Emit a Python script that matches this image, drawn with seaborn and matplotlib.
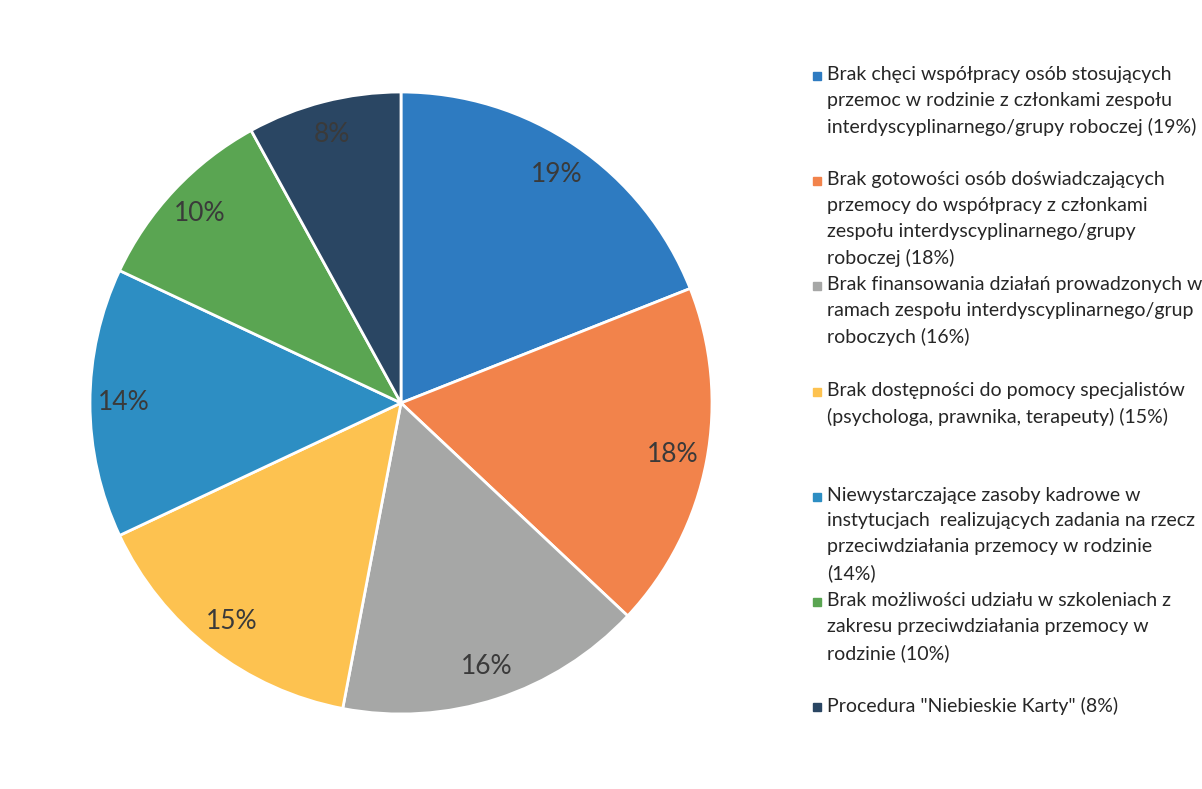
import matplotlib
matplotlib.use("Agg")
import matplotlib.pyplot as plt
import seaborn as sns

sns.set_theme(style="white")
plt.rcParams['font.family'] = ['Lato', 'DejaVu Sans']

# Data
labels = [
    "Brak chęci współpracy osób stosujących\nprzemoc w rodzinie z członkami zespołu\ninterdyscyplinarnego/grupy roboczej (19%)",
    "Brak gotowości osób doświadczających\nprzemocy do współpracy z członkami\nzespołu interdyscyplinarnego/grupy\nroboczej (18%)",
    "Brak finansowania działań prowadzonych w\nramach zespołu interdyscyplinarnego/grup\nroboczych (16%)",
    "Brak dostępności do pomocy specjalistów\n(psychologa, prawnika, terapeuty) (15%)",
    "Niewystarczające zasoby kadrowe w\ninstytucjach  realizujących zadania na rzecz\nprzeciwdziałania przemocy w rodzinie\n(14%)",
    "Brak możliwości udziału w szkoleniach z\nzakresu przeciwdziałania przemocy w\nrodzinie (10%)",
    'Procedura "Niebieskie Karty" (8%)',
]
shares = [19, 18, 16, 15, 14, 10, 8]
colors = ["#2E7BC1", "#F2834B", "#A6A7A6", "#FDC250", "#2D8EC3", "#5AA552", "#2A4663"]

palette = sns.color_palette(colors)

fig = plt.figure(figsize=(12.02, 7.89), dpi=100)
ax = fig.add_axes([(401 - 311) / 1202, (789 - 403 - 311) / 789, 622 / 1202, 622 / 789])

wedges, texts, autotexts = ax.pie(
    shares, colors=palette, startangle=90, counterclock=False,
    autopct=lambda p: f"{p:.0f}%", pctdistance=0.89,
    wedgeprops=dict(edgecolor="white", linewidth=2),
    textprops=dict(color="#3a3a3a", fontsize=19),
)
ax.set_xlim(-1.0, 1.0)
ax.set_ylim(-1.0, 1.0)
ax.set_aspect("equal")
ax.axis("off")

# legend drawn by hand: fixed slots like the Excel legend
x_mark, x_text = 817 / 1202, 827 / 1202
top0, slot = 66, 105.2
for i, (lab, col) in enumerate(zip(labels, palette)):
    ytop = top0 + i * slot
    fig.text(x_text, 1 - ytop / 789, lab, fontsize=14, color="#262626",
             va="top", ha="left", linespacing=1.62)
    fig.patches.append(plt.Rectangle((x_mark - 4 / 1202, 1 - (ytop + 14) / 789), 8 / 1202, 8 / 789,
                                     transform=fig.transFigure, color=col, figure=fig))

fig.savefig("out.png", dpi=100, facecolor="white")
